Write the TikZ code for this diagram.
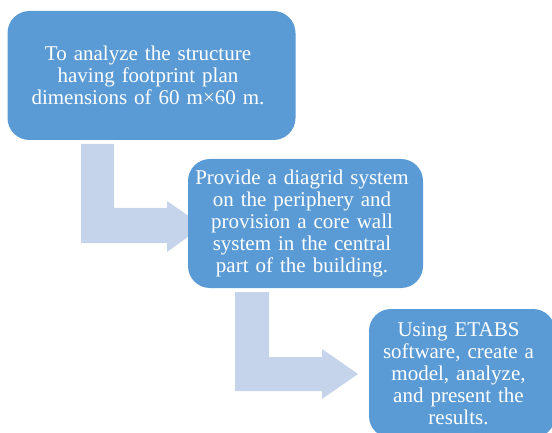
\documentclass[tikz,border=0pt]{standalone}
\usepackage{fontspec}
\setmainfont{Liberation Serif}
\usepackage{tikz}
\usetikzlibrary{calc}
\definecolor{blau}{RGB}{91,155,213}
\definecolor{hellblau}{RGB}{197,212,235}

\begin{document}
\begin{tikzpicture}
     [
     x=1pt, y=-1pt,
     schritt/.style = {fill=blau, rounded corners=22pt, text=white, align=center,
       inner sep=0pt, minimum height=129pt},
     pfeil/.style = {fill=hellblau}
     ]
     \fontsize{21}{22}\selectfont
     \spaceskip=7pt plus 2pt minus 1pt

     \clip (0,0) rectangle (552,433);

     % bent arrows
     \fill[pfeil] (81,144) -- (114,144) -- (114,208) -- (167,208) -- (167,201)
     -- (203,226) -- (167,252) -- (167,243) -- (81,243) -- cycle;
     \fill[pfeil] (235,292) -- (269,292) -- (269,357) -- (322,357) -- (322,349)
     -- (358,374) -- (322,399) -- (322,391) -- (235,391) -- cycle;

    \draw (151.5,75.5) node[schritt,minimum width=288pt] (eins)
                 {To analyze the structure\\ having footprint plan\\ dimensions of 60 m×60 m.}
               (305.5,223.5) node[schritt,minimum width=235pt] (zwei)
                 {Provide a diagrid system\\ on the periphery and\\ provision a core wall\\ system in the central\\ part of the building.}
               (462,373.5) node[schritt,minimum width=186pt] (drei)
                 {Using ETABS\\ software, create a\\ model, analyze,\\ and present the\\ results.}
     ;
  \end{tikzpicture}
\end{document}
